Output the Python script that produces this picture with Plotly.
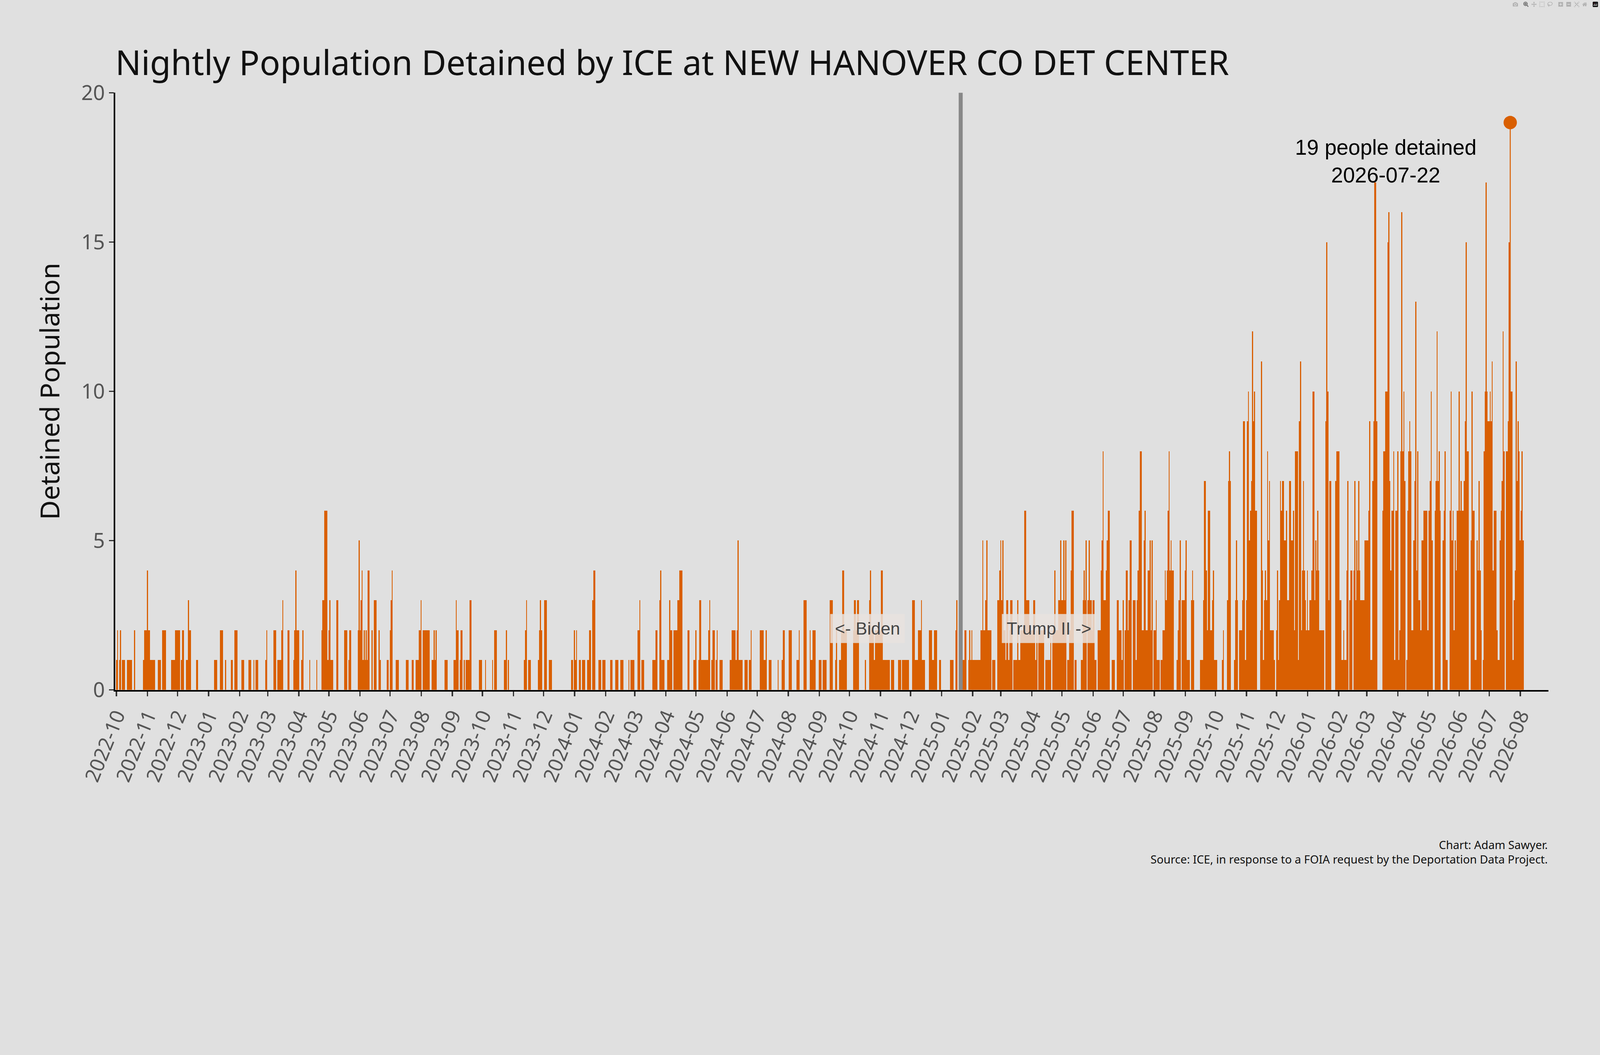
"""Nightly ICE detention population at New Hanover Co Det Center."""

import pandas as pd
import plotly.graph_objects as go

# daily values, one list per month
OCT22 = [1,2,0,1,2,0,1,1,1,0,0,1,1,1,1,1,0,0,2,0,0,0,0,0,0,0,0,1,2,2,2]
NOV22 = [4,2,2,1,1,1,1,1,0,0,0,1,1,1,0,2,2,2,2,0,0,0,0,0,1,1,1,1,2,2]
DEC22 = [2,2,2,0,1,2,2,0,0,1,1,3,2,2,0,0,0,0,0,1,1,0,0,0,0,0,0,0,0,0,0]
JAN23 = [0,0,0,0,0,0,1,1,1,0,0,0,2,2,2,0,0,1,0,0,0,0,0,1,1,0,2,2,2,0,0]
FEB23 = [0,0,1,1,1,0,0,0,0,1,1,1,0,0,1,0,1,1,1,0,0,0,0,0,0,0,1,2]
MAR23 = [0,0,0,0,0,0,2,2,2,0,1,1,1,1,2,3,0,0,0,0,2,2,0,0,0,0,1,2,4,2,2]
APR23 = [2,0,0,1,2,0,0,0,0,0,0,1,0,0,0,0,0,0,1,0,0,0,0,2,3,3,6,6,6,1]
MAY23 = [2,3,1,1,1,0,0,0,3,3,0,0,0,0,0,0,2,2,2,0,1,2,2,0,0,0,0,0,0,2,5]
JUN23 = [2,3,4,1,2,1,2,1,4,4,0,0,2,0,3,3,3,0,0,2,1,0,0,0,0,0,0,1,1,0]
JUL23 = [2,3,4,0,0,0,1,1,1,0,0,0,0,0,0,0,1,1,1,0,0,0,1,1,0,0,1,1,1,2,2]
AUG23 = [3,0,2,2,2,2,2,2,2,0,0,1,1,2,1,2,0,0,0,0,0,0,0,0,1,1,1,0,0,0,0]
SEP23 = [0,0,1,1,3,2,2,0,1,2,2,0,1,0,1,1,1,1,3,3,0,0,0,0,0,0,0,1,1,1]
OCT23 = [0,0,0,1,0,0,0,0,0,0,1,0,2,2,2,0,0,0,0,0,0,0,1,1,2,0,1,0,0,0,0]
NOV23 = [0,0,0,0,0,0,0,0,0,0,0,1,2,3,0,1,1,1,0,0,0,0,0,0,0,1,2,3,2,0]
DEC23 = [0,3,3,3,0,0,1,1,1,0,0,0,0,0,0,0,0,0,0,0,0,0,0,0,0,0,0,0,1,1,0]
JAN24 = [2,1,2,0,0,1,1,0,1,1,1,0,0,1,1,2,2,0,3,4,4,0,0,0,1,1,1,0,1,1,1]
FEB24 = [0,0,0,0,0,1,1,0,0,0,1,1,1,0,0,1,1,1,0,0,0,0,0,1,0,1,1,1,1]
MAR24 = [0,0,0,2,2,3,0,1,1,1,0,0,0,0,0,0,0,0,1,1,1,2,2,0,0,3,4,1,1,1,0]
APR24 = [0,0,1,1,3,2,2,0,2,2,2,2,3,3,4,4,4,0,0,0,0,0,2,2,0,0,0,0,1,1]
MAY24 = [2,0,0,1,3,3,1,1,1,1,1,1,1,2,3,0,1,2,2,0,1,2,0,0,1,1,1,0,0,0,0]
JUN24 = [0,0,0,1,1,2,2,2,2,1,2,5,1,1,1,1,0,0,1,1,1,0,1,1,2,0,0,0,0,0]
JUL24 = [0,0,0,2,2,2,2,1,1,2,0,0,1,1,1,0,0,0,0,0,0,1,0,0,0,1,2,2,0,0,0]
AUG24 = [0,2,2,2,0,0,0,0,0,1,1,2,0,0,0,0,3,3,3,0,0,0,2,1,1,2,2,2,0,0,0]
SEP24 = [1,1,1,0,1,1,1,1,0,0,0,3,3,3,0,0,1,2,0,0,1,1,2,4,4,2,2,2,0,0]
OCT24 = [0,0,0,0,2,3,3,2,3,3,0,0,0,0,0,0,1,0,0,0,3,4,2,2,2,1,2,2,2,2,2]
NOV24 = [2,4,4,1,1,1,1,1,1,1,0,1,1,1,0,0,0,0,1,1,1,0,1,1,1,1,1,1,1,0]
DEC24 = [0,0,3,3,3,1,1,1,2,2,2,3,1,1,1,0,0,0,0,2,2,2,1,1,2,2,2,0,0,1,1]
JAN25 = [0,0,0,0,0,0,0,0,0,1,1,1,0,0,2,3,0,0,1,1,1,1,1,2,2,0,0,1,2,1,2]
FEB25 = [1,1,1,1,1,1,1,1,2,2,5,2,2,3,5,2,2,2,2,0,1,1,1,0,0,3,3,4]
MAR25 = [5,3,5,2,2,1,3,3,1,2,3,3,0,1,1,1,1,3,1,1,2,2,2,2,6,6,3,3,3,2,2]
APR25 = [2,2,3,3,1,2,0,2,2,2,2,2,2,0,1,1,1,1,1,2,0,2,2,4,2,2,2,3,3,5]
MAY25 = [3,3,5,3,5,0,1,1,2,4,6,6,0,1,1,0,0,0,0,1,1,3,4,3,5,0,3,5,3,3,2]
JUN25 = [3,3,1,1,0,2,2,2,4,5,8,3,3,4,5,6,6,0,0,1,1,1,0,0,3,3,2,2,2,1]
JUL25 = [3,0,2,4,4,2,3,5,5,0,3,3,3,1,3,4,6,8,8,2,2,5,6,2,2,4,4,5,2,5,0]
AUG25 = [2,2,3,1,1,1,0,1,1,2,2,4,3,4,6,8,4,5,4,4,0,0,0,1,2,3,5,0,3,3,3]
SEP25 = [4,5,1,1,1,0,3,4,3,0,0,0,0,0,0,1,1,1,3,7,7,4,2,6,6,2,2,3,4,1]
OCT25 = [1,1,0,0,0,0,0,1,2,0,0,0,3,7,8,7,0,0,0,1,3,5,3,0,2,2,2,3,9,9,1]
NOV25 = [3,9,10,5,6,7,12,9,10,6,6,0,0,0,2,11,4,1,3,4,3,8,5,7,2,2,2,2,1,0]
DEC25 = [2,4,1,3,7,6,7,7,5,5,6,3,3,7,7,5,5,6,2,8,8,8,1,9,11,2,4,7,4,3,2]
JAN26 = [4,2,3,3,4,10,10,3,5,4,6,4,2,2,2,2,2,0,9,15,10,3,7,7,0,0,0,0,7,8,8]
FEB26 = [8,3,3,1,1,2,1,1,4,7,0,3,4,4,0,4,7,3,5,4,7,4,3,3,3,3,5,5]
MAR26 = [5,5,6,9,1,1,7,9,17,17,9,0,0,0,0,0,6,8,8,10,10,15,16,7,4,6,6,8,1,6,6]
APR26 = [8,1,2,8,16,8,10,7,0,1,6,8,9,8,2,2,5,7,13,4,8,3,3,2,5,5,6,6,6,6]
MAY26 = [2,6,7,10,5,0,0,6,7,12,7,8,6,0,0,5,6,8,1,1,0,0,6,10,5,6,2,5,4,6,6]
JUN26 = [10,6,7,6,6,7,9,15,8,8,0,0,5,10,6,6,1,1,5,4,7,4,2,0,1,8,10,17,10,9]
JUL26 = [9,10,9,11,4,6,6,6,2,1,1,5,6,7,12,8,0,8,8,9,15,19,10,10,1,3,4,11,7,9,8]
AUG26 = [5,6,8,5]

MONTHS = [OCT22, NOV22, DEC22, JAN23, FEB23, MAR23, APR23, MAY23, JUN23, JUL23,
          AUG23, SEP23, OCT23, NOV23, DEC23, JAN24, FEB24, MAR24, APR24, MAY24,
          JUN24, JUL24, AUG24, SEP24, OCT24, NOV24, DEC24, JAN25, FEB25, MAR25,
          APR25, MAY25, JUN25, JUL25, AUG25, SEP25, OCT25, NOV25, DEC25, JAN26,
          FEB26, MAR26, APR26, MAY26, JUN26, JUL26, AUG26]
FIRST_MONTH = "2022-10-01"

PEAK_DATE = "2026-07-22"
PEAK_VALUE = 19
INAUGURATION = "2025-01-20"

W, H = 4800, 2700
BG = "#E0E0E0"
ORANGE = "#D95F02"
INK = "#111111"
MID = "#555555"
FONT = "Noto Sans"

dates, values = [], []
for start, vals in zip(pd.date_range(FIRST_MONTH, periods=len(MONTHS), freq="MS"), MONTHS):
    days = pd.date_range(start, start + pd.offsets.MonthEnd(0), freq="D")
    for d, v in zip(days, vals):
        dates.append(d)
        values.append(v)

fig = go.Figure()
fig.add_bar(
    x=dates, y=values,
    width=86400000,
    marker=dict(color=ORANGE, line=dict(width=0)),
    hovertemplate="%{x|%Y-%m-%d}: %{y}<extra></extra>",
)
fig.add_scatter(
    x=[PEAK_DATE, PEAK_DATE], y=[0, PEAK_VALUE],
    mode="lines", line=dict(color=ORANGE, width=3), hoverinfo="skip",
)
fig.add_scatter(
    x=[PEAK_DATE], y=[PEAK_VALUE],
    mode="markers", marker=dict(color=ORANGE, size=40), hoverinfo="skip",
)

fig.add_shape(
    type="line", xref="x", yref="y",
    x0=INAUGURATION, x1=INAUGURATION, y0=0, y1=20,
    line=dict(color="#888888", width=12),
)

box = dict(bgcolor="rgba(232,226,222,0.85)", borderpad=14,
           font=dict(family="Liberation Sans", size=52, color="#444444"))
fig.add_annotation(x="2024-10-19", y=2.05, text="<- Biden", showarrow=False, **box)
fig.add_annotation(x="2025-04-18", y=2.05, text="Trump II ->", showarrow=False, **box)

fig.add_annotation(
    x="2026-03-20", y=17.7, text=f"{PEAK_VALUE} people detained<br>{PEAK_DATE}",
    showarrow=False, font=dict(family="Liberation Sans", size=64, color="black"),
)

fig.add_annotation(
    xref="paper", yref="paper", x=1.0, y=-0.245, xanchor="right", yanchor="top",
    align="right", showarrow=False,
    text="Chart: Adam Sawyer.<br>Source: ICE, in response to a FOIA request by the Deportation Data Project.",
    font=dict(family=FONT, size=34, color=INK),
)

fig.update_layout(
    width=W, height=H,
    paper_bgcolor=BG, plot_bgcolor=BG,
    font=dict(family=FONT, color=INK),
    showlegend=False,
    bargap=0,
    margin=dict(l=346, r=155, t=278, b=631),
    title=dict(
        text="Nightly Population Detained by ICE at NEW HANOVER CO DET CENTER",
        x=346 / W, xanchor="left", y=0.93, yanchor="middle",
        font=dict(family=FONT, size=102, color=INK),
    ),
    xaxis=dict(
        type="date",
        range=["2022-09-30", "2026-08-29"],
        dtick="M1", tick0="2022-10-01", tickformat="%Y-%m",
        tickangle=-68, tickfont=dict(size=60, color=MID),
        ticks="outside", ticklen=14, tickwidth=4, tickcolor="#333333",
        showline=True, linecolor="black", linewidth=5,
        showgrid=False, zeroline=False,
    ),
    yaxis=dict(
        range=[0, 20], dtick=5,
        tickfont=dict(size=62, color=MID),
        ticks="outside", ticklen=14, tickwidth=4, tickcolor="#333333",
        showline=True, linecolor="black", linewidth=5,
        showgrid=False, zeroline=False,
        title=dict(text="Detained Population", font=dict(size=80, color=INK), standoff=40),
    ),
)

# scale the whole figure down if the window is narrower than the figure
FIT = (
    "var d=document.getElementById('{plot_id}');"
    "document.body.style.margin='0';document.body.style.overflow='hidden';"
    "document.body.style.background='" + BG + "';"
    f"var s=Math.min(1, window.innerWidth/{W}, window.innerHeight/{H});"
    "d.style.transformOrigin='0 0';d.style.transform='scale('+s+')';"
)

fig.write_html("out.html", post_script=FIT)
